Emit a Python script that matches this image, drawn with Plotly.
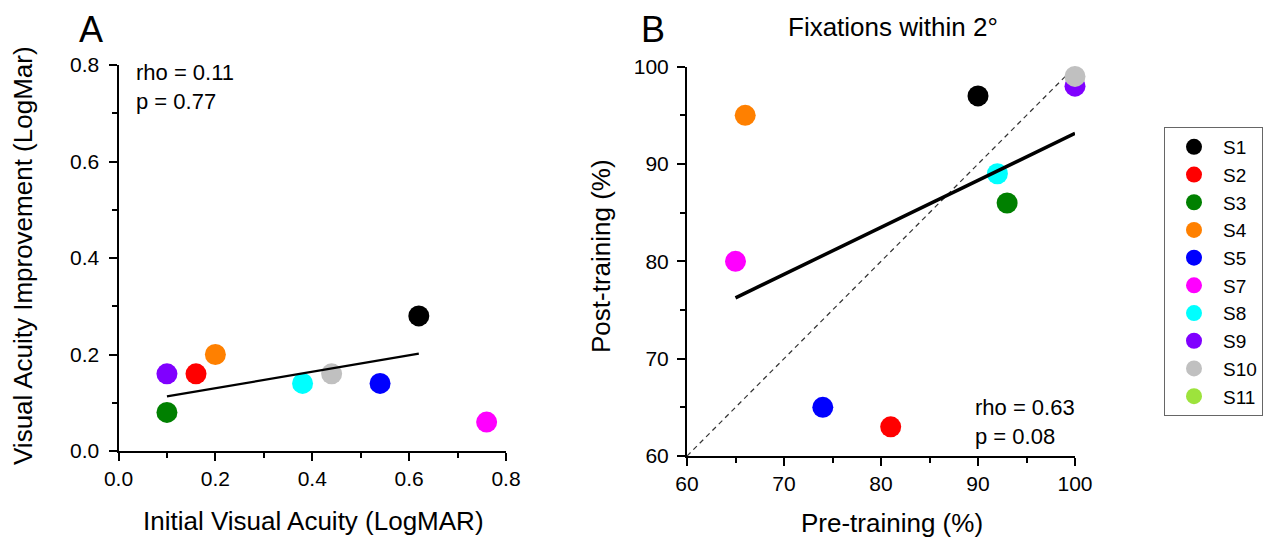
import plotly.graph_objects as go

subjects = ["S1", "S2", "S3", "S4", "S5", "S7", "S8", "S9", "S10", "S11"]
colors = ["#000000", "#ff0000", "#008000", "#ff8000", "#0000ff", "#ff00ff",
          "#00ffff", "#8000ff", "#c0c0c0", "#9de33c"]

# Panel A (S11 has no point)
a_initial = [0.62, 0.16, 0.10, 0.20, 0.54, 0.76, 0.38, 0.10, 0.44, None]
a_improve = [0.28, 0.16, 0.08, 0.20, 0.14, 0.06, 0.14, 0.16, 0.16, None]
a_fit_x = [0.10, 0.62]
a_fit_y = [0.113, 0.202]

# Panel B (S11 has no point)
b_pre = [90, 81, 93, 66, 74, 65, 92, 100, 100, None]
b_post = [97, 63, 86, 95, 65, 80, 89, 98, 99, None]
b_fit_x = [65, 100]
b_fit_y = [76.25, 93.15]
b_identity = [60, 100]

a_ticks = [0.0, 0.2, 0.4, 0.6, 0.8]
b_ticks = [60, 70, 80, 90, 100]

W, H = 1277, 542
OFF = 8  # page body margin offset of the rendered figure
FONT = "Liberation Sans, Arial, sans-serif"


def px(x):
    return (x - OFF) / W


def py(y):
    return 1 - (y - OFF) / H


fig = go.Figure()

# identity line (behind markers)
fig.add_trace(go.Scatter(x=b_identity, y=b_identity, mode="lines",
                         line=dict(color="#333333", width=1.2, dash="5px,4px"),
                         showlegend=False, hoverinfo="skip", xaxis="x2", yaxis="y2"))

for i, s in enumerate(subjects):
    fig.add_trace(go.Scatter(x=[a_initial[i]], y=[a_improve[i]], mode="markers",
                             marker=dict(color=colors[i], size=21, line=dict(width=0)),
                             name=s, showlegend=False, cliponaxis=False,
                             xaxis="x", yaxis="y", legendgroup=s))
    fig.add_trace(go.Scatter(x=[b_pre[i]], y=[b_post[i]], mode="markers",
                             marker=dict(color=colors[i], size=21, line=dict(width=0)),
                             name=s, showlegend=True, cliponaxis=False,
                             xaxis="x2", yaxis="y2", legendgroup=s))

# regression lines (on top of markers)
fig.add_trace(go.Scatter(x=a_fit_x, y=a_fit_y, mode="lines",
                         line=dict(color="black", width=2.3),
                         showlegend=False, hoverinfo="skip", xaxis="x", yaxis="y"))
fig.add_trace(go.Scatter(x=b_fit_x, y=b_fit_y, mode="lines",
                         line=dict(color="black", width=3.5),
                         showlegend=False, hoverinfo="skip", xaxis="x2", yaxis="y2"))

minor_common = dict(ticks="outside", ticklen=5, tickcolor="black", tickwidth=1.8)
axis_common = dict(showline=True, linecolor="black", linewidth=2,
                   ticks="outside", ticklen=8, tickwidth=1.8, tickcolor="black",
                   showgrid=False, zeroline=False, mirror=False, automargin=False,
                   fixedrange=True,
                   tickfont=dict(family=FONT, size=21, color="black"))

fig.update_layout(
    width=W, height=H,
    template="none",
    margin=dict(l=0, r=0, t=0, b=0, pad=0, autoexpand=False),
    paper_bgcolor="white", plot_bgcolor="white",
    font=dict(family=FONT, color="black"),
    xaxis=dict(domain=[px(118.5), px(506)], range=[0, 0.8], tickvals=a_ticks,
               ticktext=[f"{v:.1f}" for v in a_ticks],
               minor=dict(dtick=0.1, **minor_common),
               anchor="y", **axis_common),
    yaxis=dict(domain=[py(451), py(65)], range=[0, 0.8], tickvals=a_ticks,
               ticktext=[f"{v:.1f}" for v in a_ticks],
               minor=dict(dtick=0.1, **minor_common), ticklabelstandoff=5,
               anchor="x", **axis_common),
    xaxis2=dict(domain=[px(687), px(1075)], range=[60, 100], tickvals=b_ticks,
                minor=dict(dtick=5, **minor_common),
                anchor="y2", **axis_common),
    yaxis2=dict(domain=[py(456), py(66.7)], range=[60, 100], tickvals=b_ticks,
                minor=dict(dtick=5, **minor_common), ticklabelstandoff=4,
                anchor="x2", **axis_common),
    legend=dict(x=px(1164), y=py(127), xanchor="left", yanchor="top",
                bordercolor="#666666", borderwidth=1, bgcolor="white",
                font=dict(family=FONT, size=19, color="black"),
                itemsizing="trace", itemwidth=48, tracegroupgap=0),
    showlegend=True,
)

annotations = [
    dict(text="A", x=px(90.5), y=1.0, xanchor="center", yanchor="top",
         borderpad=0, font=dict(size=36)),
    dict(text="B", x=px(652.5), y=1.0, xanchor="center", yanchor="top",
         borderpad=0, font=dict(size=36)),
    dict(text="Fixations within 2°", x=px(893), y=py(27), xanchor="center",
         yanchor="middle", font=dict(size=26)),
    dict(text="Initial Visual Acuity (LogMAR)", x=px(313), y=py(521),
         xanchor="center", yanchor="middle", font=dict(size=26)),
    dict(text="Visual Acuity Improvement (LogMar)", x=px(23), y=py(256),
         xanchor="center", yanchor="middle", textangle=-90, font=dict(size=26)),
    dict(text="Pre-training (%)", x=px(892), y=py(523),
         xanchor="center", yanchor="middle", font=dict(size=26)),
    dict(text="Post-training (%)", x=px(601), y=py(256),
         xanchor="center", yanchor="middle", textangle=-90, font=dict(size=26)),
    dict(text="rho = 0.11<br>p = 0.77", x=px(134), y=py(87),
         xanchor="left", yanchor="middle", align="left", font=dict(size=22)),
    dict(text="rho = 0.63<br>p = 0.08", x=px(973), y=py(422),
         xanchor="left", yanchor="middle", align="left", font=dict(size=22)),
]
for a in annotations:
    a.update(xref="paper", yref="paper", showarrow=False)
    a["font"] = dict(family=FONT, color="black", **a["font"])
fig.update_layout(annotations=annotations)

fig.write_html("out.html")
